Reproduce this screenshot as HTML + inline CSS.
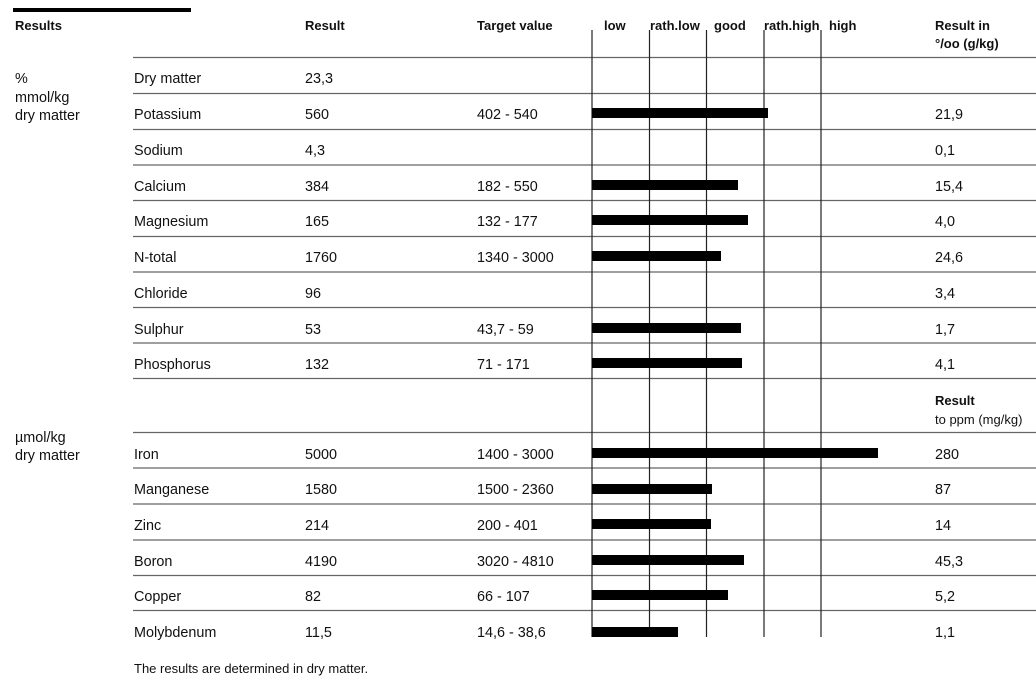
<!DOCTYPE html>
<html><head><meta charset="utf-8"><style>
body{margin:0;background:#fff;}
svg{display:block;font-family:"Liberation Sans",Arial,sans-serif;}
.h{font-size:13px;font-weight:bold;}
.t{font-size:14.4px;}
</style></head><body>
<svg width="1036" height="690" viewBox="0 0 1036 690">
<rect x="13" y="8" width="178" height="4" fill="#000"/>
<g fill="#111">
<text class="h" x="15" y="30">Results</text>
<text class="h" x="305" y="30">Result</text>
<text class="h" x="477" y="30">Target value</text>
<text class="h" x="604" y="30">low</text>
<text class="h" x="650" y="30">rath.low</text>
<text class="h" x="714" y="30">good</text>
<text class="h" x="764" y="30">rath.high</text>
<text class="h" x="829" y="30">high</text>
<text class="h" x="935" y="30">Result in</text>
<text class="h" x="935" y="48">°/oo (g/kg)</text>
</g>
<g stroke="#666" stroke-width="1.3">
<line x1="133" x2="1036" y1="57.5" y2="57.5"/>
<line x1="133" x2="1036" y1="93.5" y2="93.5"/>
<line x1="133" x2="1036" y1="129.5" y2="129.5"/>
<line x1="133" x2="1036" y1="165" y2="165"/>
<line x1="133" x2="1036" y1="200.5" y2="200.5"/>
<line x1="133" x2="1036" y1="236.5" y2="236.5"/>
<line x1="133" x2="1036" y1="272" y2="272"/>
<line x1="133" x2="1036" y1="307.5" y2="307.5"/>
<line x1="133" x2="1036" y1="343" y2="343"/>
<line x1="133" x2="1036" y1="378.5" y2="378.5"/>
<line x1="133" x2="1036" y1="432.5" y2="432.5"/>
<line x1="133" x2="1036" y1="468" y2="468"/>
<line x1="133" x2="1036" y1="504" y2="504"/>
<line x1="133" x2="1036" y1="540" y2="540"/>
<line x1="133" x2="1036" y1="575.5" y2="575.5"/>
<line x1="133" x2="1036" y1="610.5" y2="610.5"/>
</g>
<g stroke="#222" stroke-width="1.2">
<line x1="592" x2="592" y1="30" y2="637"/>
<line x1="649.5" x2="649.5" y1="30" y2="637"/>
<line x1="706.5" x2="706.5" y1="30" y2="637"/>
<line x1="764" x2="764" y1="30" y2="637"/>
<line x1="821" x2="821" y1="30" y2="637"/>
</g>
<g fill="#000">
<rect x="592" y="108" width="176" height="10"/>
<rect x="592" y="180" width="146" height="10"/>
<rect x="592" y="215" width="156" height="10"/>
<rect x="592" y="251" width="129" height="10"/>
<rect x="592" y="323" width="149" height="10"/>
<rect x="592" y="358" width="150" height="10"/>
<rect x="592" y="448" width="286" height="10"/>
<rect x="592" y="484" width="120" height="10"/>
<rect x="592" y="519" width="119" height="10"/>
<rect x="592" y="555" width="152" height="10"/>
<rect x="592" y="590" width="136" height="10"/>
<rect x="592" y="627" width="86" height="10"/>
</g>
<g class="t" fill="#111">
<text x="15" y="83">%</text>
<text x="15" y="102">mmol/kg</text>
<text x="15" y="120">dry matter</text>
<text x="15" y="442">µmol/kg</text>
<text x="15" y="460">dry matter</text>

<text x="134" y="83">Dry matter</text><text x="305" y="83">23,3</text>
<text x="134" y="119">Potassium</text><text x="305" y="119">560</text><text x="477" y="119">402 - 540</text><text x="935" y="119">21,9</text>
<text x="134" y="155">Sodium</text><text x="305" y="155">4,3</text><text x="935" y="155">0,1</text>
<text x="134" y="191">Calcium</text><text x="305" y="191">384</text><text x="477" y="191">182 - 550</text><text x="935" y="191">15,4</text>
<text x="134" y="226">Magnesium</text><text x="305" y="226">165</text><text x="477" y="226">132 - 177</text><text x="935" y="226">4,0</text>
<text x="134" y="262">N-total</text><text x="305" y="262">1760</text><text x="477" y="262">1340 - 3000</text><text x="935" y="262">24,6</text>
<text x="134" y="298">Chloride</text><text x="305" y="298">96</text><text x="935" y="298">3,4</text>
<text x="134" y="334">Sulphur</text><text x="305" y="334">53</text><text x="477" y="334">43,7 - 59</text><text x="935" y="334">1,7</text>
<text x="134" y="369">Phosphorus</text><text x="305" y="369">132</text><text x="477" y="369">71 - 171</text><text x="935" y="369">4,1</text>

<text x="134" y="459">Iron</text><text x="305" y="459">5000</text><text x="477" y="459">1400 - 3000</text><text x="935" y="459">280</text>
<text x="134" y="494">Manganese</text><text x="305" y="494">1580</text><text x="477" y="494">1500 - 2360</text><text x="935" y="494">87</text>
<text x="134" y="530">Zinc</text><text x="305" y="530">214</text><text x="477" y="530">200 - 401</text><text x="935" y="530">14</text>
<text x="134" y="566">Boron</text><text x="305" y="566">4190</text><text x="477" y="566">3020 - 4810</text><text x="935" y="566">45,3</text>
<text x="134" y="601">Copper</text><text x="305" y="601">82</text><text x="477" y="601">66 - 107</text><text x="935" y="601">5,2</text>
<text x="134" y="637">Molybdenum</text><text x="305" y="637">11,5</text><text x="477" y="637">14,6 - 38,6</text><text x="935" y="637">1,1</text>
</g>
<text class="h" x="935" y="405" fill="#111">Result</text>
<text x="935" y="424" font-size="13" fill="#111">to ppm (mg/kg)</text>
<text x="134" y="673" font-size="13" fill="#111">The results are determined in dry matter.</text>
</svg>
</body></html>
